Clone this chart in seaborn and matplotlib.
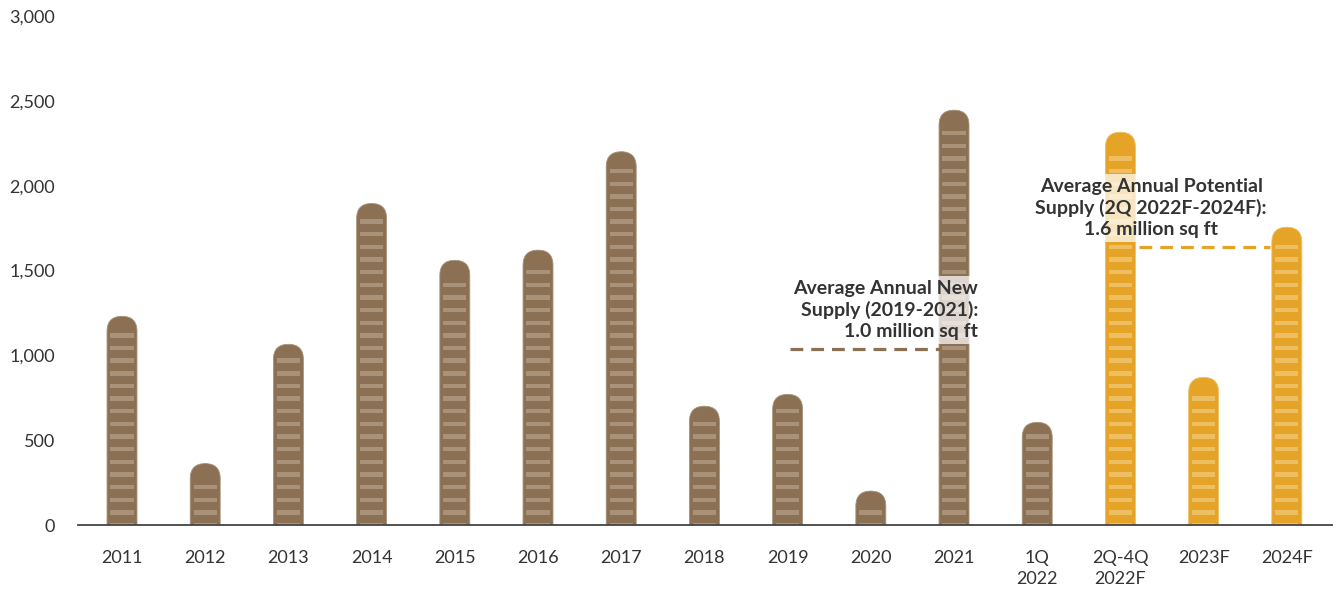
import matplotlib
matplotlib.use('Agg')
import matplotlib.pyplot as plt
from matplotlib.patches import FancyBboxPatch
import seaborn as sns
import numpy as np

# data (thousand sq ft)
categories = ['2011', '2012', '2013', '2014', '2015', '2016', '2017', '2018',
              '2019', '2020', '2021', '1Q\n2022', '2Q-4Q\n2022F', '2023F', '2024F']
values = [1230, 362, 1065, 1895, 1560, 1620, 2200, 700,
          770, 200, 2445, 605, 2315, 870, 1755]
is_forecast = [False] * 12 + [True] * 3
avg_new = 1040
avg_potential = 1640
ytick_vals = [0, 500, 1000, 1500, 2000, 2500, 3000]

BROWN = '#8b7053'
BROWN_STRIPE = '#a8927a'
ORANGE = '#e5a328'
ORANGE_STRIPE = '#eebf62'
TEXT = '#333333'

sns.set_theme(style='white')
plt.rcParams['font.family'] = ['Lato', 'DejaVu Sans']

fig = plt.figure(figsize=(13.33, 5.92), dpi=100)
ax = fig.add_axes([78 / 1333, 1 - 525 / 592, 1 - 78 / 1333, (525 - 16) / 592])

palette = [ORANGE if f else BROWN for f in is_forecast]
sns.barplot(x=categories, y=values, hue=categories, palette=palette,
            legend=False, width=0.36, ax=ax, saturation=1)

ax.set_xlim(-0.529, 14.555)
ax.set_ylim(0, 3000)

# rounded tops: swap each seaborn bar for a rounded box with the same geometry
fig.canvas.draw()
inv = ax.transData.inverted()
p0 = inv.transform((0, 0))
p1 = inv.transform((1, 1))
ux = p1[0] - p0[0]
uy = p1[1] - p0[1]

bars = list(ax.patches)
for i, p in enumerate(bars):
    x, w, h = p.get_x(), p.get_width(), p.get_height()
    col = p.get_facecolor()
    p.remove()
    r = w / 2
    sc = ORANGE_STRIPE if is_forecast[i] else BROWN_STRIPE
    box = FancyBboxPatch((x, -300), w, h + 300,
                         boxstyle='round,pad=0,rounding_size=%f' % r,
                         mutation_aspect=uy / ux, facecolor=col,
                         edgecolor=sc, linewidth=0.6, zorder=2)
    ax.add_patch(box)
    # light horizontal stripes
    starts = np.arange(-13, h - 95, 74.5)
    ax.bar([x + w / 2] * len(starts), 26, bottom=starts, width=w * 0.77,
           color=sc, linewidth=0, zorder=3)

# average lines
ax.plot([8.03, 9.83], [avg_new, avg_new], ls=(0, (4, 2.5)), color=BROWN,
        lw=2.3, zorder=4)
ax.plot([12.22, 13.8], [avg_potential, avg_potential], ls=(0, (4, 2.5)),
        color=ORANGE, lw=2.3, zorder=4)

ax.text(10.29, 1445, 'Average Annual New\nSupply (2019-2021):\n1.0 million sq ft',
        ha='right', va='top', multialignment='right', fontsize=14,
        fontweight='bold', color=TEXT, linespacing=1.27, zorder=5,
        bbox=dict(boxstyle='square,pad=0.2', facecolor='white',
                  edgecolor='none', alpha=0.72))
ax.text(12.37, 2045, 'Average Annual Potential\nSupply (2Q 2022F-2024F):\n1.6 million sq ft',
        ha='center', va='top', multialignment='center', fontsize=14,
        fontweight='bold', color=TEXT, linespacing=1.27, zorder=5,
        bbox=dict(boxstyle='square,pad=0.2', facecolor='white',
                  edgecolor='none', alpha=0.72))

ax.set_yticks(ytick_vals)
ax.set_yticklabels(['{:,}'.format(v) for v in ytick_vals])
ax.tick_params(axis='y', length=0, pad=16.5, labelsize=13, labelcolor=TEXT)
ax.tick_params(axis='x', length=0, pad=18, labelsize=13, labelcolor=TEXT)
for lab in ax.get_xticklabels():
    lab.set_linespacing(1.4)
ax.set_xlabel('')
ax.set_ylabel('')

sns.despine(ax=ax, left=True, top=True, right=True)
ax.spines['bottom'].set_color('#444444')
ax.spines['bottom'].set_linewidth(1.3)
ax.spines['bottom'].set_zorder(6)

fig.savefig('out.png', dpi=100)
